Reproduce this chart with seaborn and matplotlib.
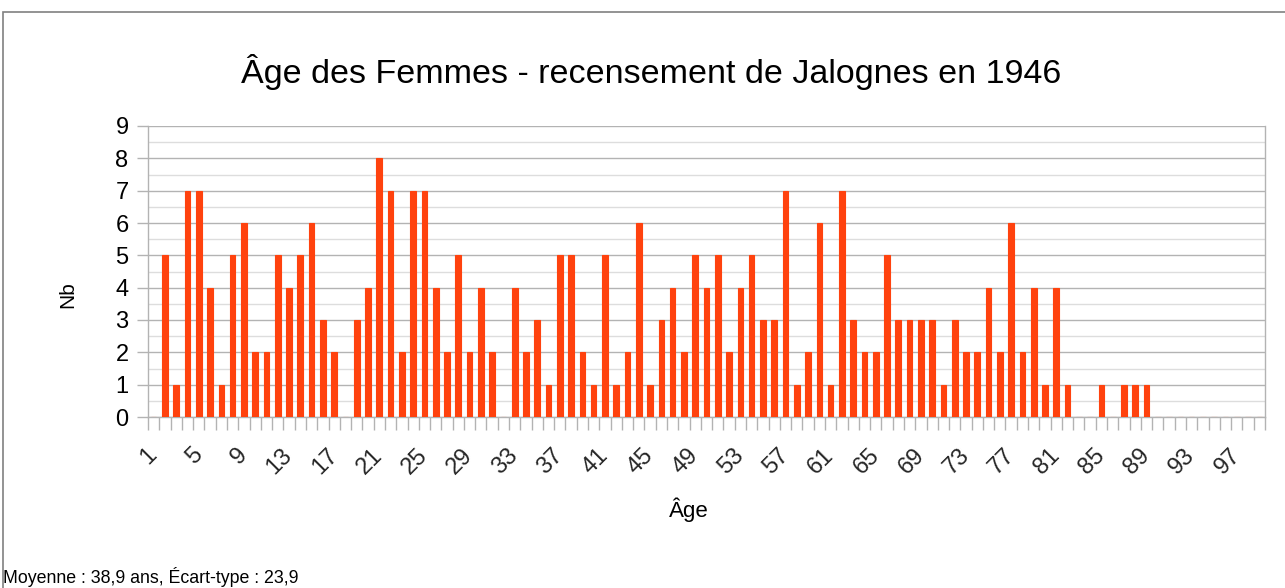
import matplotlib
matplotlib.use("Agg")
import matplotlib.pyplot as plt
import seaborn as sns
import pandas as pd
import numpy as np
from matplotlib.patches import Rectangle

ages = list(range(1, 100))
counts = [0, 5, 1, 7, 7, 4, 1, 5, 6, 2,
          2, 5, 4, 5, 6, 3, 2, 0, 3, 4,
          8, 7, 2, 7, 7, 4, 2, 5, 2, 4,
          2, 0, 4, 2, 3, 1, 5, 5, 2, 1,
          5, 1, 2, 6, 1, 3, 4, 2, 5, 4,
          5, 2, 4, 5, 3, 3, 7, 1, 2, 6,
          1, 7, 3, 2, 2, 5, 3, 3, 3, 3,
          1, 3, 2, 2, 4, 2, 6, 2, 4, 1,
          4, 1, 0, 0, 1, 0, 1, 1, 1, 0,
          0, 0, 0, 0, 0, 0, 0, 0, 0]
tick_labels = [str(a) for a in ages[::4]]

title = "Âge des Femmes - recensement de Jalognes en 1946"
xlabel = "Âge"
ylabel = "Nb"
footer = "Moyenne : 38,9 ans, Écart-type : 23,9"

df = pd.DataFrame({"Âge": [str(a) for a in ages], "Nb": counts})

sns.set_theme(style="white")
plt.rcParams['font.family'] = ['Liberation Sans', 'DejaVu Sans']

W, H = 1285, 588
fig = plt.figure(figsize=(W / 100, H / 100), dpi=100)
ax = fig.add_axes([148 / W, 1 - 417 / H, (1265 - 148) / W, (417 - 126) / H])

sns.barplot(data=df, x="Âge", y="Nb", ax=ax, color="#ff420e", width=0.5,
            saturation=1, edgecolor="#ff420e", linewidth=0.8, zorder=3)

ax.set_xlim(-0.5, len(ages) - 0.5)
ax.set_ylim(0, 9)
ax.set_yticks(range(0, 10))
ax.set_yticks(np.arange(0.5, 9, 1), minor=True)
ax.grid(axis="y", which="major", color="#b3b3b3", linewidth=1.0, zorder=0)
ax.grid(axis="y", which="minor", color="#dddddd", linewidth=1.0, zorder=0)
ax.grid(axis="x", visible=False)

ax.set_xticks(range(0, len(ages), 4))
ax.set_xticklabels(tick_labels, rotation=45, ha="right", va="center",
                   rotation_mode="anchor", fontsize=17)
ax.set_xticks(np.arange(-0.5, len(ages), 1), minor=True)
ax.tick_params(axis="x", which="major", length=0, pad=25)
ax.tick_params(axis="x", which="minor", length=9, width=1, color="#b3b3b3", bottom=True)
ax.tick_params(axis="y", which="major", length=8, width=1, color="#b3b3b3",
               labelsize=17, pad=6, left=True)
ax.tick_params(axis="y", which="minor", length=0)
for lbl in ax.get_yticklabels():
    lbl.set_color("black")
for lbl in ax.get_xticklabels():
    lbl.set_x(lbl.get_position()[0])

for s in ["left", "right", "bottom"]:
    ax.spines[s].set_visible(True)
    ax.spines[s].set_color("#b3b3b3")
    ax.spines[s].set_linewidth(1.0)
ax.spines["top"].set_visible(False)

ax.set_xlabel("")
ax.set_ylabel("")

fig.text(651 / W, 1 - 72 / H, title, ha="center", va="center", fontsize=24.5, color="black")
fig.text(689 / W, 1 - 510 / H, xlabel, ha="center", va="center", fontsize=16, color="black")
fig.text(68 / W, 1 - 295 / H, ylabel, ha="center", va="center", rotation=90,
         fontsize=15, color="black")
fig.text(3 / W, 1 - 577 / H, footer, ha="left", va="center", fontsize=12.8, color="black")

fig.patches.append(Rectangle((3 / W, -0.1), 1.2, 1 - 12 / H + 0.1,
                             transform=fig.transFigure, fill=False,
                             edgecolor="#808080", linewidth=1.2))

fig.savefig("out.png", dpi=100)
